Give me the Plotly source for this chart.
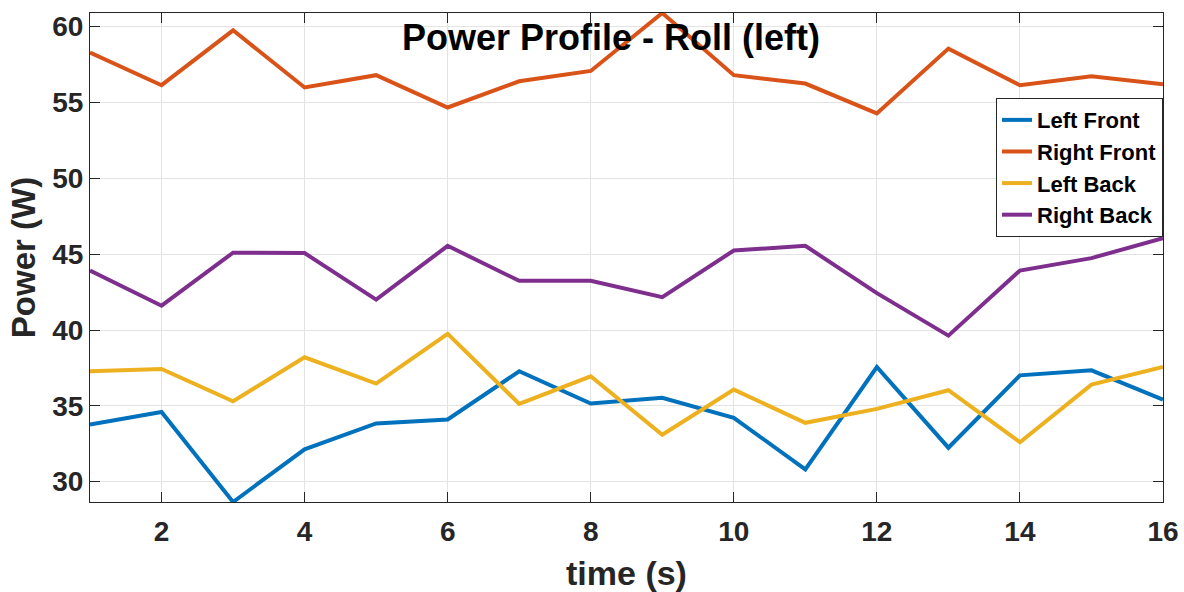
import plotly.graph_objects as go

time_s = list(range(1, 17))
left_front = [33.77, 34.60, 28.66, 32.13, 33.84, 34.10, 37.28, 35.15, 35.53, 34.21, 30.81, 37.56, 32.24, 37.01, 37.34, 35.41]
right_front = [58.29, 56.14, 59.76, 55.99, 56.80, 54.67, 56.40, 57.08, 60.90, 56.80, 56.25, 54.28, 58.55, 56.14, 56.73, 56.20]
left_back = [37.28, 37.43, 35.30, 38.20, 36.47, 39.74, 35.13, 36.95, 33.09, 36.07, 33.88, 34.80, 36.03, 32.60, 36.40, 37.56]
right_back = [43.92, 41.60, 45.10, 45.07, 42.00, 45.55, 43.24, 43.24, 42.17, 45.24, 45.55, 42.43, 39.63, 43.92, 44.74, 46.05]

series_names = ["Left Front", "Right Front", "Left Back", "Right Back"]
series_values = [left_front, right_front, left_back, right_back]
colors = ["#0072BD", "#D95319", "#EDB120", "#7E2F8E"]

x_ticks = [2, 4, 6, 8, 10, 12, 14, 16]
y_ticks = [30, 35, 40, 45, 50, 55, 60]

FONT = "Liberation Sans, Arial, Helvetica, sans-serif"
DARK = "#262626"

fig = go.Figure()
for name, vals, col in zip(series_names, series_values, colors):
    fig.add_trace(go.Scatter(x=time_s, y=vals, mode="lines", name=name,
                             line=dict(color=col, width=4)))

all_vals = [v for s in series_values for v in s]
ymin, ymax = min(all_vals), max(all_vals)

axis_common = dict(
    showline=True, linecolor=DARK, linewidth=1, mirror="allticks",
    ticks="inside", ticklen=10, tickwidth=1, tickcolor=DARK,
    showgrid=True, gridcolor="#E3E3E3", gridwidth=1, zeroline=False,
    tickfont=dict(family=FONT, size=28, color=DARK, weight="bold"),
    automargin=False, ticklabeloverflow="allow",
)

fig.update_xaxes(range=[min(time_s), max(time_s)], tickvals=x_ticks,
                 ticklabelstandoff=4,
                 title=dict(text="time (s)", standoff=24,
                            font=dict(family=FONT, size=34, color=DARK, weight="bold")),
                 **axis_common)
fig.update_yaxes(range=[ymin, ymax], tickvals=y_ticks,
                 title=dict(text="Power (W)", standoff=6,
                            font=dict(family=FONT, size=33, color=DARK, weight="bold")),
                 **axis_common)

fig.add_annotation(text="Power Profile - Roll (left)", xref="paper", yref="paper",
                   x=0.4856, y=0.950, xanchor="center", yanchor="middle", showarrow=False,
                   font=dict(family=FONT, size=36, color="#000000", weight="bold"))

fig.update_layout(
    width=1184, height=592,
    margin=dict(l=89.5, r=20.5, t=12.7, b=89.7),
    paper_bgcolor="white", plot_bgcolor="white",
    legend=dict(x=1, y=0.826, xanchor="right", yanchor="top",
                bgcolor="white", bordercolor=DARK, borderwidth=1,
                font=dict(family=FONT, size=22, color="#000000", weight="bold"),
                itemwidth=30, tracegroupgap=0),
    showlegend=True,
)

fig.write_html("out.html", config={"displayModeBar": False},
               post_script="document.body.style.margin='0';document.body.style.overflow='hidden';")
